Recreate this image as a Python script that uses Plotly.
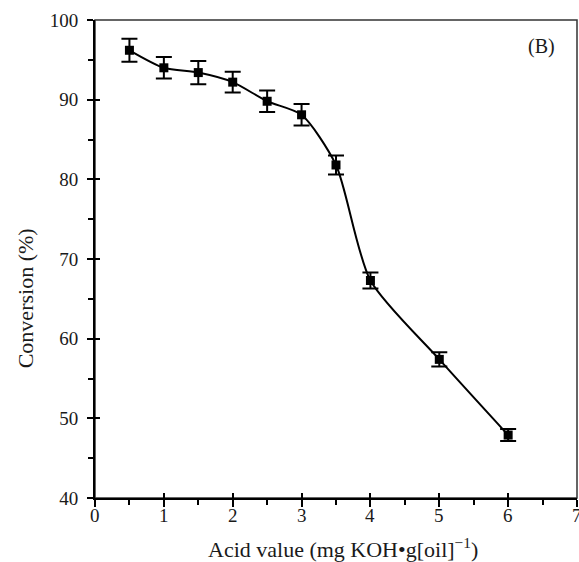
import plotly.graph_objects as go

# Conversion vs. acid value of the oil feed
acid_value = [0.5, 1.0, 1.5, 2.0, 2.5, 3.0, 3.5, 4.0, 5.0, 6.0]
conversion = [96.2, 94.0, 93.4, 92.2, 89.8, 88.1, 81.8, 67.3, 57.4, 47.9]
conversion_err = [1.45, 1.35, 1.45, 1.3, 1.35, 1.35, 1.2, 1.0, 0.9, 0.75]

x_ticks = [0, 1, 2, 3, 4, 5, 6, 7]
y_ticks = [40, 50, 60, 70, 80, 90, 100]

serif = "Liberation Serif, Times New Roman, serif"
ink = "#1a1a1a"

fig = go.Figure()

fig.add_trace(go.Scatter(
    x=acid_value,
    y=conversion,
    mode="lines+markers",
    line=dict(color="black", width=2, shape="spline", smoothing=0.7),
    marker=dict(symbol="square", size=9, color="black"),
    error_y=dict(type="data", array=conversion_err, visible=True,
                 color="black", thickness=2, width=8),
    showlegend=False,
    hoverinfo="skip",
))

# invisible trace carrying the inward half of the crossing ticks
fig.add_trace(go.Scatter(x=[0], y=[40], xaxis="x2", yaxis="y2",
                         mode="markers", marker=dict(opacity=0),
                         showlegend=False, hoverinfo="skip"))

tick_font = dict(family=serif, size=19, color=ink)
title_font = dict(family=serif, size=22, color=ink)

# x tick labels are placed as annotations so the last one may run off the page edge
x_label_notes = [
    dict(text=str(v), xref="x", yref="paper", x=v, y=-0.036,
         xanchor="center", yanchor="middle", showarrow=False, font=tick_font)
    for v in x_ticks
]

fig.update_layout(
    width=579, height=562,
    margin=dict(l=95, r=2, t=20, b=64),
    paper_bgcolor="white", plot_bgcolor="white",
    xaxis=dict(
        range=[0, 7], tickvals=x_ticks, showticklabels=False,
        ticks="outside", ticklen=7, tickwidth=2, tickcolor="black",
        minor=dict(dtick=0.5, ticks="outside", ticklen=5, tickwidth=2, tickcolor="black"),
        showline=True, linewidth=2, linecolor="black",
        showgrid=False, zeroline=False,
    ),
    yaxis=dict(
        range=[40, 100], tickvals=y_ticks, ticktext=[str(v) for v in y_ticks],
        ticks="outside", ticklen=6, tickwidth=2, tickcolor="black",
        minor=dict(dtick=5, ticks="outside", ticklen=5, tickwidth=2, tickcolor="black"),
        showline=True, linewidth=2, linecolor="black",
        showgrid=False, zeroline=False, tickfont=tick_font,
        ticklabelstandoff=5,
    ),
    xaxis2=dict(
        overlaying="x", anchor="y2", side="bottom", range=[0, 7],
        tickvals=x_ticks, ticks="inside", ticklen=5, tickwidth=2, tickcolor="black",
        showticklabels=False, showgrid=False, zeroline=False, showline=False,
    ),
    yaxis2=dict(
        overlaying="y", anchor="x2", side="left", range=[40, 100],
        tickvals=y_ticks, ticks="inside", ticklen=5, tickwidth=2, tickcolor="black",
        showticklabels=False, showgrid=False, zeroline=False, showline=False,
    ),
    shapes=[dict(type="rect", xref="paper", yref="paper", x0=0, y0=0, x1=1, y1=1,
                 line=dict(color="#333", width=1.5), layer="below")],
    annotations=x_label_notes + [
        dict(text="(B)", xref="x", yref="y", x=6.49, y=96.7,
             xanchor="center", yanchor="middle", showarrow=False,
             font=dict(family=serif, size=20, color=ink)),
        dict(text="Acid value (mg KOH•g[oil]<sup>−1</sup>)", xref="paper", yref="paper",
             x=0.515, y=-0.105, xanchor="center", yanchor="middle",
             showarrow=False, font=title_font),
        dict(text="Conversion (%)", xref="paper", yref="paper", textangle=-90,
             x=-0.145, y=0.418, xanchor="center", yanchor="middle",
             showarrow=False, font=title_font),
    ],
)

fig.write_html("out.html")
